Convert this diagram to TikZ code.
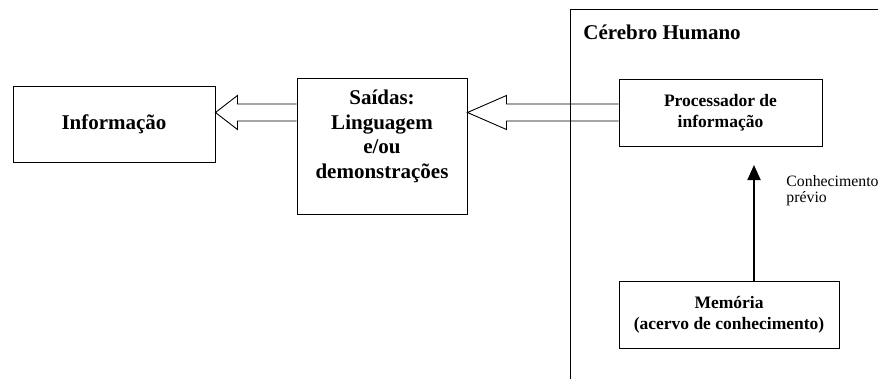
\documentclass[tikz,border=0pt]{standalone}
\usepackage{fontspec}
\setmainfont{Liberation Serif}
\usetikzlibrary{calc,arrows.meta}

% open (unfilled) block arrow: start, tip, head length
\newcommand{\hollowarrow}[3]{%
  \draw ($(#1)+(0,8.5)$) -- ($(#2)+(#3,8.5)$) -- ($(#2)+(#3,17)$) -- (#2)
    -- ($(#2)+(#3,-17)$) -- ($(#2)+(#3,-8.5)$) -- ($(#1)+(0,-8.5)$);}

\begin{document}
\begin{tikzpicture}[x=1pt,y=1pt,line width=0.9pt,
  bigbox/.style={draw, align=center, font=\bfseries\fontsize{21}{24.5}\selectfont},
  smallbox/.style={draw, align=center, font=\bfseries\fontsize{17.5}{21}\selectfont}]
\useasboundingbox (0,0) rectangle (878,-378);
\clip (0,0) rectangle (878,-378);
% frame of the brain
\draw (570,-390) -- (570,-9) -- (890,-9);
\node[anchor=west, inner sep=0, font=\bfseries\fontsize{21}{24}\selectfont] (brain) at (583,-32) {Cérebro Humano};
% boxes
\node[bigbox, minimum width=202, minimum height=76] (info) at (114,-124) {Informação};
\node[draw, minimum width=170, minimum height=136] (saidas) at (382,-146) {};
\node[align=center, font=\bfseries\fontsize{21}{24.5}\selectfont] (saidastxt) at (382,-136.5)
  {Saídas:\\Linguagem\\e/ou\\demonstrações};
\node[smallbox, minimum width=203, minimum height=67] (proc) at (720.5,-112.5) {Processador de\\informação};
\node[smallbox, minimum width=220, minimum height=67] (mem) at (729,-314.5) {Memória\\(acervo de conhecimento)};
% arrows
\coordinate (tip1) at (info.east |- proc.west);
\coordinate (tail1) at (saidas.west |- proc.west);
\coordinate (tip2) at (saidas.east |- proc.west);
\hollowarrow{tail1}{tip1}{22}
\hollowarrow{proc.west}{tip2}{39}
\coordinate (prevtip) at (754,-165);
\draw[line width=1.8pt, -{Triangle[length=15pt, width=13pt]}] (mem.north -| prevtip) -- (prevtip);
\node[anchor=west, align=left, inner sep=0, font=\fontsize{15.8}{16}\selectfont] (prev) at (786,-191) {Conhecimento\\prévio};
\end{tikzpicture}
\end{document}
